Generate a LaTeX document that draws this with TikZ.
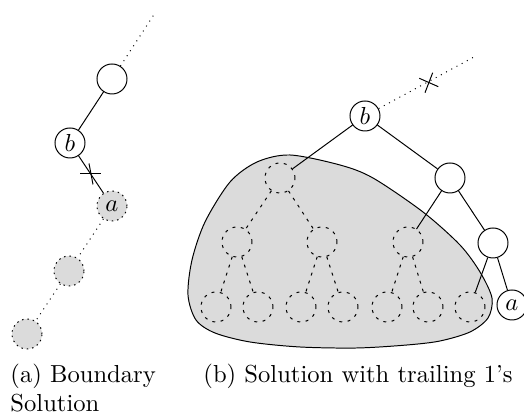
\documentclass[tikz,border=0pt]{standalone}
\begin{document}
\begin{tikzpicture}[x=0.4065pt,y=-0.4065pt,
  vtx/.style={circle,draw,minimum size=12.2pt,inner sep=0pt,fill=white},
  gvtx/.style={circle,draw,dash pattern=on 0.6pt off 1.6pt,fill=black!14,minimum size=12.2pt,inner sep=0pt},
  dvtx/.style={circle,draw,dash pattern=on 1.2pt off 2.2pt,minimum size=12.2pt,inner sep=0pt},
  dedge/.style={dash pattern=on 1.2pt off 2.2pt},
  capt/.style={anchor=base west,inner sep=0pt}]
\useasboundingbox (0,0) rectangle (524,415);
% ---------- (a) ----------
\coordinate (atop) at (155,13);
\node[vtx] (aT) at (112,79) {};
\node[vtx] (ab) at (70,143) {$b$};
\node[gvtx] (aa) at (112,206) {$a$};
\node[gvtx] (am) at (69,271) {};
\node[gvtx] (abot) at (27,334) {};
\draw[dotted] (aT) -- (atop);
\draw (aT) -- (ab);
\draw (ab) -- (aa);
\draw[dotted] (aa) -- (am);
\draw[dotted] (am) -- (abot);
\draw (80.5,174) -- (101.5,174);
\draw (89,163.5) -- (93,184.5);
% ---------- (b) ----------
\filldraw[fill=black!14] plot[smooth cycle, tension=0.5] coordinates {
  (290,155) (340,165) (373,178) (423,212) (460,245) (480,272) (492,298)
  (488,318) (470,332) (440,341) (407,345) (357,348) (300,347) (250,342)
  (215,333) (196,320) (188,295) (192,260) (205,222) (230,182) (257,162)};
\coordinate (btop) at (474,57);
\node[vtx] (bb) at (365,116) {$b$};
\node[vtx] (r1) at (450,178) {};
\node[vtx] (r2) at (493,243) {};
\node[vtx] (ba) at (512,305) {$a$};
\node[dvtx] (lr) at (280,178) {};
\node[dvtx] (l1) at (237,242) {};
\node[dvtx] (l2) at (322,242) {};
\node[dvtx] (m) at (408,242) {};
\node[dvtx] (f1) at (216,307) {};
\node[dvtx] (f2) at (258,307) {};
\node[dvtx] (f3) at (301,307) {};
\node[dvtx] (f4) at (343,307) {};
\node[dvtx] (f5) at (387,307) {};
\node[dvtx] (f6) at (428,307) {};
\node[dvtx] (f7) at (470,307) {};
\draw[dotted] (bb) -- (btop);
\draw (419.3,78.3) -- (438.3,86.7);
\draw (432.7,72.7) -- (425,92.7);
\draw (bb) -- (lr);
\draw (bb) -- (r1);
\draw (r1) -- (m);
\draw (r1) -- (r2);
\draw (r2) -- (f7);
\draw (r2) -- (ba);
\draw[dedge] (lr) -- (l1);
\draw[dedge] (lr) -- (l2);
\draw[dedge] (l1) -- (f1);
\draw[dedge] (l1) -- (f2);
\draw[dedge] (l2) -- (f3);
\draw[dedge] (l2) -- (f4);
\draw[dedge] (m) -- (f5);
\draw[dedge] (m) -- (f6);
% ---------- captions ----------
\node[capt] (ca1) at (10,383) {(a) Boundary};
\node[capt] (ca2) at (10,412) {Solution};
\node[capt] (cb) at (203,383) {(b) Solution with trailing 1's};
\end{tikzpicture}
\end{document}
